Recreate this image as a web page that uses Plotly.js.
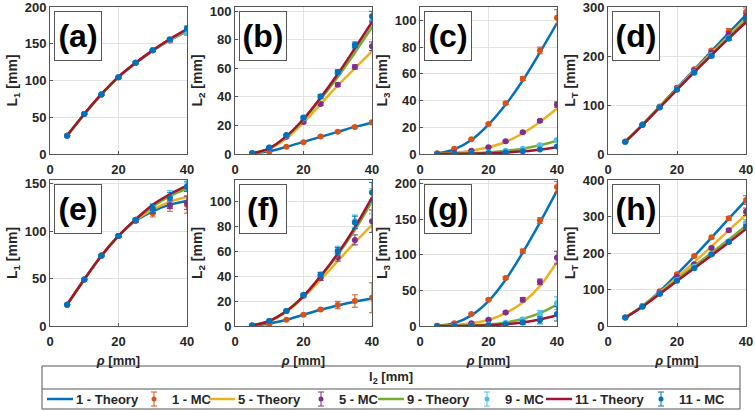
<!DOCTYPE html>
<html><head><meta charset="utf-8">
<script src="https://cdn.plot.ly/plotly-3.0.1.min.js"></script>
<style>html,body{margin:0;padding:0;background:#fff}#chart{width:755px;height:411px}</style>
</head><body><div id="chart"></div>
<script>
const rho = [5,10,15,20,25,30,35,40];
const seriesNames = ['1','5','9','11'];
const panelLetters = ['(a)','(b)','(c)','(d)','(e)','(f)','(g)','(h)'];
const yTitles = ['L<sub>1</sub> [mm]','L<sub>2</sub> [mm]','L<sub>3</sub> [mm]','L<sub>T</sub> [mm]','L<sub>1</sub> [mm]','L<sub>2</sub> [mm]','L<sub>3</sub> [mm]','L<sub>T</sub> [mm]'];
const xTitle = '<i>ρ</i> [mm]';
const legendTitle = 'l<sub>2</sub> [mm]';

// theory curves (rows: l2 = 1, 5, 9, 11)
const thA = [[25,54,81,104.5,123.5,140.5,155,167],[25,54,81,104.5,123.5,140.5,155.5,168],[25,54,81,104.5,124,141,156,169],[25,54.5,81.5,105,124,141,156.5,170]];
const thB = [[0.5,2,5,8.5,12,15.5,19,22],[0.5,3.5,11,22,35,48,60,72],[0.5,4,12,24,38.5,54,71,89],[0.5,4,12.5,24.5,39.5,56,74,92.5]];
const thC = [[0.5,3.5,10.5,22,37,55,76,98],[0.1,0.8,2.5,5,9,15.5,24,34],[0,0.2,0.5,1.3,2.5,4,6.5,10],[0,0.1,0.2,0.5,1.1,2,3.2,5]];
const thD = [[25,60,97,135,172,210,247,284],[25,60,96,133,170,206,241,276],[25,59.5,95.5,132,168,203,238,272],[25,59,95,131,167,202,236,269]];
const thE = [[22.5,49,74,95,111,121,128,132],[22.5,49,74,95,111.5,123,131,136],[22.5,49,74,95,112,126,137,145],[22.5,49,74,95,112.5,128,139,148]];
const thF = [[0.5,2,5,9,13,16.5,19.5,22],[0.5,3.5,11.5,23,37,52,67,81],[0.5,4,12,24,39.5,57,77,100],[0.5,4,12,24,40,58,79,103]];
const thG = [[0.5,4,15,35,65,103,145,190],[0.1,1.5,4,8.5,18,33,56,90],[0,0.2,0.7,2,5,10,18,30],[0,0.1,0.3,1,2.5,5,9,15]];
const thH = [[23,55,95,142,191,242,294,345],[23,54,92,133,175,218,262,305],[23,54,90,127,164,200,237,275],[23,53,88,123,158,193,229,266]];

// Monte Carlo means
const mcA = [[25,54.5,81,104.5,124,141,154,165],[25,54.5,81,104.5,124,141,155,167],[25,54.5,81,104.5,124,141,155,165],[25,54.5,81,104.5,124,141,156,171]];
const mcB = [[0.5,1.5,5,8.3,12.2,15.6,19,22.3],[0.5,4,12,22.5,35,48.5,61,75.5],[0.5,4.5,13,25,40,57,75,93],[0.5,4.5,13.3,25.5,40.5,57.5,76.5,96.5]];
const mcC = [[0.5,4,11,22.5,38,56.4,77.5,102],[0.1,1,2.5,5,9.5,16.2,24.8,37],[0,0.2,0.6,1.2,2.5,4,6.5,10.5],[0,0.1,0.3,0.6,1.2,2,3.3,5.6]];
const mcD = [[25,60,97,135,173,211,250,290],[25,60,96,134,170,207,245,280],[25,59.5,95.5,132,167,202,236,270],[25,59,95,131,166,200,235,275]];
const mcE = [[22.5,49,74.5,95,111,119,126,128],[22.5,49,74,95,111,122,128,130],[22.5,49,74,95,112,125,137,148],[22.5,49,74,95,112,124,135,147]];
const mcF = [[0.5,1.5,5,9,13.3,16.8,20,22.6],[0.5,4,12,24,38.5,55,69,84],[0.5,4,12,24.5,41,61,84,100],[0.5,4,12,25,41,60,83,107]];
const mcG = [[0.5,4,16.7,37,67.4,105,148,195],[0.1,1.5,4,8.8,19,37,62,96],[0,0.2,0.8,2,4.5,9,17,32],[0,0.1,0.4,1,2.5,5,8,17]];
const mcH = [[23,55,95.5,142,192,243,295,345],[23,54,92,135,169,214,262,313],[23,54,89,126,162,198,232,282],[23,53,88,124,158,196,230,272]];

// Monte Carlo error bars (half-width)
const erA = [[0.5,0.8,1,1,1.2,1.5,2,3],[0.5,0.8,1,1,1.2,1.5,2,3],[0.5,0.8,1,1,1.2,1.5,2,3],[0.5,0.8,1,1,1.2,1.5,2,3]];
const erB = [[0.1,0.2,0.3,0.4,0.5,0.6,0.8,1],[0.1,0.3,0.5,0.8,1,1.2,1.5,3],[0.1,0.3,0.6,1,1.2,1.5,2,4],[0.1,0.3,0.6,1,1.2,1.5,2,3.5]];
const erC = [[0.1,0.3,0.5,0.8,1,1.5,2.5,6],[0.05,0.1,0.2,0.3,0.5,0.8,1,2],[0,0.05,0.1,0.1,0.2,0.3,0.5,1],[0,0.05,0.1,0.1,0.2,0.3,0.4,0.8]];
const erD = [[0.5,1,1,1.5,2,3,6,8],[0.5,1,1,1.5,2,3,4,6],[0.5,1,1,1.5,2,3,4,6],[0.5,1,1,1.5,2,2.5,3,5]];
const erE = [[0.3,0.5,0.8,1,1.5,4,5,9],[0.3,0.5,0.8,1,1.5,3,4,7],[0.3,0.5,0.8,1,1.5,4,6,6],[0.3,0.5,0.8,1,1.5,4,6,5]];
const erF = [[0.1,0.3,0.5,0.8,1,3,5,12],[0.1,0.3,0.6,1,2,3,4,9],[0.1,0.3,0.6,1,2,3,5,10],[0.1,0.3,0.6,1,2,3,5,8]];
const erG = [[0.1,0.5,1,1.5,2,3,4,8],[0.05,0.2,0.5,1,1.5,3,4,9],[0,0.1,0.2,0.5,1,3,5,9],[0,0.1,0.2,0.5,1,3,5,10]];
const erH = [[0.5,1,1.5,2,2.5,3,5,12],[0.5,1,1.5,2,2.5,3,4,10],[0.5,1,1.5,2,2.5,3,5,10],[0.5,1,1.5,2,2.5,3,4,5]];

const yRanges = [[0,200],[0,103],[0,110],[0,300],[0,154],[0,117],[0,205],[0,400]];
const yDticks = [50,20,20,100,50,20,50,100];

const theory = [thA,thB,thC,thD,thE,thF,thG,thH];
const mc = [mcA,mcB,mcC,mcD,mcE,mcF,mcG,mcH];
const err = [erA,erB,erC,erD,erE,erF,erG,erH];

const thColors = ['#0072BD','#EDB120','#77AC30','#A2142F'];
const mcColors = ['#D95319','#7E2F8E','#4DBEEE','#0072BD'];

const W = 755, H = 411;
const colPx = [[50,187],[235,372],[420,557],[608,746]];
const rowPx = [[7,154],[180,326]];

const FONT = 'Liberation Sans, Arial, sans-serif';
const TXT = '#262626';
const traces = [];
const layout = {
  width: W, height: H, margin: {l:0,r:0,t:0,b:0},
  paper_bgcolor: '#fff', plot_bgcolor: '#fff',
  font: {family: FONT, size: 13, color: TXT, weight: 'bold'},
  showlegend: false,
  annotations: [], shapes: []
};

for (let p = 0; p < 8; p++) {
  const idx = p + 1;
  const xa = 'x' + (idx === 1 ? '' : idx);
  const ya = 'y' + (idx === 1 ? '' : idx);
  const col = colPx[p % 4], row = rowPx[Math.floor(p / 4)];
  for (let s = 0; s < 4; s++) {
    traces.push({
      type: 'scatter', mode: 'lines', x: rho, y: theory[p][s], xaxis: xa, yaxis: ya,
      line: {color: thColors[s], width: 2.5, shape: 'spline', smoothing: 1},
      name: seriesNames[s] + ' - Theory'
    });
    traces.push({
      type: 'scatter', mode: 'markers', x: rho, y: mc[p][s], xaxis: xa, yaxis: ya,
      marker: {color: mcColors[s], size: 6},
      error_y: {type: 'data', array: err[p][s], visible: true, color: mcColors[s], thickness: 1, width: 3},
      name: seriesNames[s] + ' - MC'
    });
  }
  const axCommon = {
    showline: true, linecolor: '#555', linewidth: 1, mirror: true,
    showgrid: true, gridcolor: '#e3e3e3', zeroline: false,
    ticks: 'inside', ticklen: 3, tickcolor: '#555', ticklabeloverflow: 'allow',
    tickfont: {family: FONT, size: 13, weight: 'bold', color: TXT}
  };
  const xax = Object.assign({}, axCommon, {
    domain: [col[0]/W, col[1]/W], anchor: ya, range: [0, 40], tickvals: [0,20,40],
    ticklabelstandoff: 3
  });
  if (p >= 4) xax.title = {text: xTitle, font: {family: FONT, size: 13, weight: 'bold', color: TXT}, standoff: 8};
  layout['xaxis' + (idx === 1 ? '' : idx)] = xax;
  layout['yaxis' + (idx === 1 ? '' : idx)] = Object.assign({}, axCommon, {
    domain: [1 - row[1]/H, 1 - row[0]/H], anchor: xa, range: yRanges[p], dtick: yDticks[p], tick0: 0,
    title: {text: yTitles[p], font: {family: FONT, size: 14, weight: 'bold', color: TXT}, standoff: 3}
  });
  layout.annotations.push({
    xref: 'paper', yref: 'paper', x: (col[0] + 4)/W, y: 1 - (row[0] + 4)/H,
    xanchor: 'left', yanchor: 'top', showarrow: false, text: panelLetters[p],
    font: {family: FONT, size: 32, weight: 'bold', color: '#000'},
    width: 44, height: 46, align: 'center', valign: 'middle',
    bordercolor: '#555', borderwidth: 1, borderpad: 1, bgcolor: '#fff'
  });
}

// legend box drawn by hand (title row + one row of entries)
const px = v => v / W, py = v => 1 - v / H;
layout.shapes.push({type: 'rect', xref: 'paper', yref: 'paper', x0: px(42), x1: px(740), y0: py(409), y1: py(366),
  line: {color: '#555', width: 1}, fillcolor: 'rgba(0,0,0,0)'});
layout.shapes.push({type: 'line', xref: 'paper', yref: 'paper', x0: px(42), x1: px(740), y0: py(389), y1: py(389),
  line: {color: '#555', width: 1}});
layout.annotations.push({xref: 'paper', yref: 'paper', x: px(391), y: py(377), xanchor: 'center', yanchor: 'middle',
  showarrow: false, text: legendTitle, font: {family: FONT, size: 13, weight: 'bold', color: TXT}});

const legY = 399;
const legTheoryX = [47, 209, 378, 546];
const legMcX = [154, 321, 487, 661];
for (let s = 0; s < 4; s++) {
  const lx = legTheoryX[s];
  layout.shapes.push({type: 'line', xref: 'paper', yref: 'paper', x0: px(lx), x1: px(lx + 26), y0: py(legY), y1: py(legY),
    line: {color: thColors[s], width: 2.5}});
  layout.annotations.push({xref: 'paper', yref: 'paper', x: px(lx + 27), y: py(legY), xanchor: 'left', yanchor: 'middle',
    showarrow: false, text: seriesNames[s] + ' - Theory', font: {family: FONT, size: 13, weight: 'bold', color: TXT}});
  const mx = legMcX[s];
  layout.shapes.push({type: 'line', xref: 'paper', yref: 'paper', x0: px(mx), x1: px(mx), y0: py(legY - 7), y1: py(legY + 7),
    line: {color: mcColors[s], width: 1}});
  layout.shapes.push({type: 'line', xref: 'paper', yref: 'paper', x0: px(mx - 3), x1: px(mx + 3), y0: py(legY - 7), y1: py(legY - 7),
    line: {color: mcColors[s], width: 1}});
  layout.shapes.push({type: 'line', xref: 'paper', yref: 'paper', x0: px(mx - 3), x1: px(mx + 3), y0: py(legY + 7), y1: py(legY + 7),
    line: {color: mcColors[s], width: 1}});
  layout.shapes.push({type: 'circle', xref: 'paper', yref: 'paper', x0: px(mx - 2.5), x1: px(mx + 2.5), y0: py(legY + 2.5), y1: py(legY - 2.5),
    line: {color: mcColors[s], width: 0}, fillcolor: mcColors[s]});
  layout.annotations.push({xref: 'paper', yref: 'paper', x: px(mx + 16), y: py(legY), xanchor: 'left', yanchor: 'middle',
    showarrow: false, text: seriesNames[s] + ' - MC', font: {family: FONT, size: 13, weight: 'bold', color: TXT}});
}

Plotly.newPlot('chart', traces, layout, {staticPlot: true, displayModeBar: false});
</script></body></html>
